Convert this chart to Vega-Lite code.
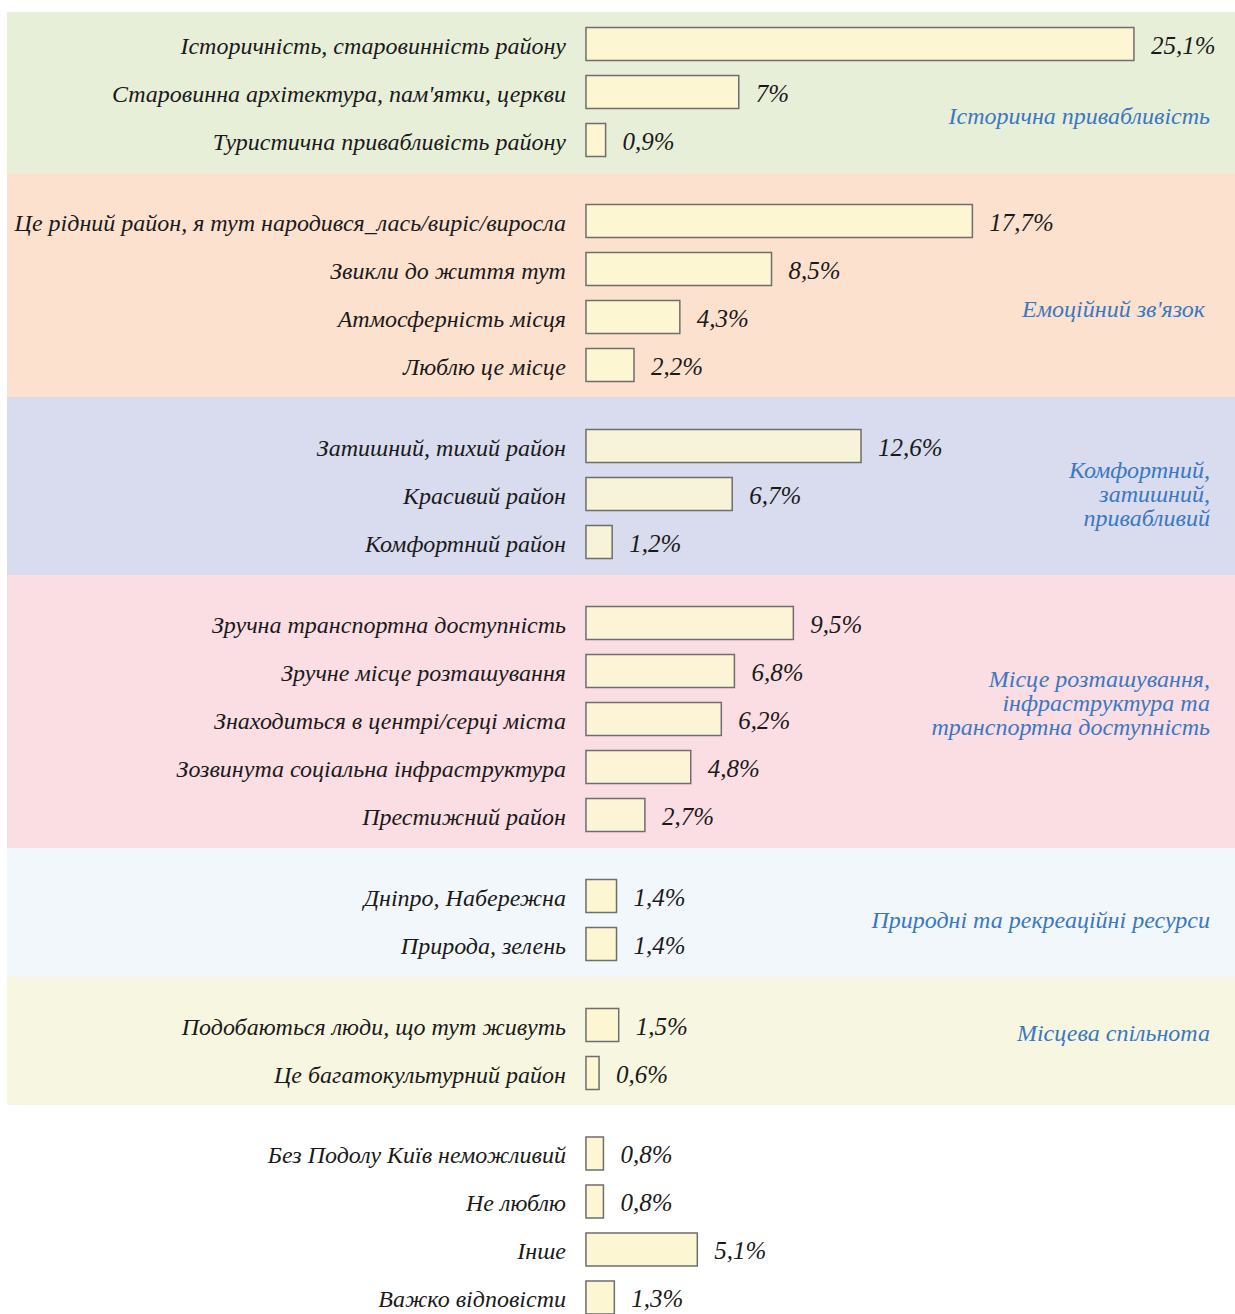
{
  "$schema": "https://vega.github.io/schema/vega-lite/v6.json",
  "padding": {"left": 7, "top": 12, "right": 0, "bottom": 0},
  "spacing": 0,
  "background": "white",
  "config": {"view": {"stroke": null}, "concat": {"spacing": 0}, "text": {"font": "'Liberation Serif', 'DejaVu Serif', serif", "fontStyle": "italic"}},
  "resolve": {"scale": {"y": "independent"}},
  "datasets": {
    "bars": [
      {"group": "g1", "label": "Історичність, старовинність району", "value": 25.1, "text": "25,1%"},
      {"group": "g1", "label": "Старовинна архітектура, пам'ятки, церкви", "value": 7, "text": "7%"},
      {"group": "g1", "label": "Туристична привабливість району", "value": 0.9, "text": "0,9%"},
      {"group": "g2", "label": "Це рідний район, я тут народився_лась/виріс/виросла", "value": 17.7, "text": "17,7%"},
      {"group": "g2", "label": "Звикли до життя тут", "value": 8.5, "text": "8,5%"},
      {"group": "g2", "label": "Атмосферність місця", "value": 4.3, "text": "4,3%"},
      {"group": "g2", "label": "Люблю це місце", "value": 2.2, "text": "2,2%"},
      {"group": "g3", "label": "Затишний, тихий район", "value": 12.6, "text": "12,6%"},
      {"group": "g3", "label": "Красивий район", "value": 6.7, "text": "6,7%"},
      {"group": "g3", "label": "Комфортний район", "value": 1.2, "text": "1,2%"},
      {"group": "g4", "label": "Зручна транспортна доступність", "value": 9.5, "text": "9,5%"},
      {"group": "g4", "label": "Зручне місце розташування", "value": 6.8, "text": "6,8%"},
      {"group": "g4", "label": "Знаходиться в центрі/серці міста", "value": 6.2, "text": "6,2%"},
      {"group": "g4", "label": "Зозвинута соціальна інфраструктура", "value": 4.8, "text": "4,8%"},
      {"group": "g4", "label": "Престижний район", "value": 2.7, "text": "2,7%"},
      {"group": "g5", "label": "Дніпро, Набережна", "value": 1.4, "text": "1,4%"},
      {"group": "g5", "label": "Природа, зелень", "value": 1.4, "text": "1,4%"},
      {"group": "g6", "label": "Подобаються люди, що тут живуть", "value": 1.5, "text": "1,5%"},
      {"group": "g6", "label": "Це багатокультурний район", "value": 0.6, "text": "0,6%"},
      {"group": "g7", "label": "Без Подолу Київ неможливий", "value": 0.8, "text": "0,8%"},
      {"group": "g7", "label": "Не люблю", "value": 0.8, "text": "0,8%"},
      {"group": "g7", "label": "Інше", "value": 5.1, "text": "5,1%"},
      {"group": "g7", "label": "Важко відповісти", "value": 1.3, "text": "1,3%"}
    ],
    "groups": [
      {"group": "g1", "name": ["Історична привабливість"]},
      {"group": "g2", "name": ["Емоційний зв'язок"]},
      {"group": "g3", "name": ["Комфортний,", "затишний,", "привабливий"]},
      {"group": "g4", "name": ["Місце розташування,", "інфраструктура та", "транспортна доступність"]},
      {"group": "g5", "name": ["Природні та рекреаційні ресурси"]},
      {"group": "g6", "name": ["Місцева спільнота"]}
    ]
  },
  "vconcat": [
    {
      "width": 1228, "height": 161,
      "view": {"fill": "#e8efd9", "stroke": null},
      "layer": [
        {
          "data": {"name": "bars"},
          "transform": [{"filter": "datum.group == 'g1'"}],
          "encoding": {"y": {"field": "label", "type": "nominal", "sort": null, "axis": null, "scale": {"paddingInner": 0.3125, "paddingOuter": 0.333, "align": 0.484}}},
          "layer": [
            {"mark": {"type": "bar", "fill": "#fdf6d3", "stroke": "#6e6e6e", "strokeWidth": 1.5}, "encoding": {"x": {"field": "value", "type": "quantitative", "scale": {"domain": [-26.52, 29.73], "nice": false, "zero": false}, "axis": null}}},
            {"mark": {"type": "text", "align": "right", "baseline": "middle", "dx": -20, "dy": 3, "fontSize": 24, "color": "#1a1a1a"}, "encoding": {"x": {"datum": 0, "type": "quantitative"}, "text": {"field": "label", "type": "nominal"}}},
            {"mark": {"type": "text", "align": "left", "baseline": "middle", "dx": 17, "dy": 2, "fontSize": 25, "color": "#1a1a1a"}, "encoding": {"x": {"field": "value", "type": "quantitative"}, "text": {"field": "text", "type": "nominal"}}}
          ]
        },
        {
          "data": {"name": "groups"},
          "transform": [{"filter": "datum.group == 'g1'"}],
          "mark": {"type": "text", "align": "right", "baseline": "middle", "dx": -25, "dy": 24.5, "lineHeight": 24, "fontSize": 24, "color": "#3a78c0"},
          "encoding": {"x": {"datum": 29.73, "type": "quantitative"}, "text": {"field": "name", "type": "nominal"}}
        }
      ]
    },
    {
      "width": 1228, "height": 224,
      "view": {"fill": "#fde1cf", "stroke": null},
      "layer": [
        {
          "data": {"name": "bars"},
          "transform": [{"filter": "datum.group == 'g2'"}],
          "encoding": {"y": {"field": "label", "type": "nominal", "sort": null, "axis": null, "scale": {"paddingInner": 0.3125, "paddingOuter": 0.4896, "align": 0.67}}},
          "layer": [
            {"mark": {"type": "bar", "fill": "#fdf6d3", "stroke": "#6e6e6e", "strokeWidth": 1.5}, "encoding": {"x": {"field": "value", "type": "quantitative", "scale": {"domain": [-26.52, 29.73], "nice": false, "zero": false}, "axis": null}}},
            {"mark": {"type": "text", "align": "right", "baseline": "middle", "dx": -20, "dy": 3, "fontSize": 24, "color": "#1a1a1a"}, "encoding": {"x": {"datum": 0, "type": "quantitative"}, "text": {"field": "label", "type": "nominal"}}},
            {"mark": {"type": "text", "align": "left", "baseline": "middle", "dx": 17, "dy": 2, "fontSize": 25, "color": "#1a1a1a"}, "encoding": {"x": {"field": "value", "type": "quantitative"}, "text": {"field": "text", "type": "nominal"}}}
          ]
        },
        {
          "data": {"name": "groups"},
          "transform": [{"filter": "datum.group == 'g2'"}],
          "mark": {"type": "text", "align": "right", "baseline": "middle", "dx": -30, "dy": 25, "lineHeight": 24, "fontSize": 24, "color": "#3a78c0"},
          "encoding": {"x": {"datum": 29.73, "type": "quantitative"}, "text": {"field": "name", "type": "nominal"}}
        }
      ]
    },
    {
      "width": 1228, "height": 178,
      "view": {"fill": "#d9dbef", "stroke": null},
      "layer": [
        {
          "data": {"name": "bars"},
          "transform": [{"filter": "datum.group == 'g3'"}],
          "encoding": {"y": {"field": "label", "type": "nominal", "sort": null, "axis": null, "scale": {"paddingInner": 0.3125, "paddingOuter": 0.5104, "align": 0.663}}},
          "layer": [
            {"mark": {"type": "bar", "fill": "#f7f3d8", "stroke": "#6e6e6e", "strokeWidth": 1.5}, "encoding": {"x": {"field": "value", "type": "quantitative", "scale": {"domain": [-26.52, 29.73], "nice": false, "zero": false}, "axis": null}}},
            {"mark": {"type": "text", "align": "right", "baseline": "middle", "dx": -20, "dy": 3, "fontSize": 24, "color": "#1a1a1a"}, "encoding": {"x": {"datum": 0, "type": "quantitative"}, "text": {"field": "label", "type": "nominal"}}},
            {"mark": {"type": "text", "align": "left", "baseline": "middle", "dx": 17, "dy": 2, "fontSize": 25, "color": "#1a1a1a"}, "encoding": {"x": {"field": "value", "type": "quantitative"}, "text": {"field": "text", "type": "nominal"}}}
          ]
        },
        {
          "data": {"name": "groups"},
          "transform": [{"filter": "datum.group == 'g3'"}],
          "mark": {"type": "text", "align": "right", "baseline": "middle", "dx": -25, "dy": -15, "lineHeight": 24, "fontSize": 24, "color": "#3a78c0"},
          "encoding": {"x": {"datum": 29.73, "type": "quantitative"}, "text": {"field": "name", "type": "nominal"}}
        }
      ]
    },
    {
      "width": 1228, "height": 273,
      "view": {"fill": "#fbdde4", "stroke": null},
      "layer": [
        {
          "data": {"name": "bars"},
          "transform": [{"filter": "datum.group == 'g4'"}],
          "encoding": {"y": {"field": "label", "type": "nominal", "sort": null, "axis": null, "scale": {"paddingInner": 0.3125, "paddingOuter": 0.5, "align": 0.656}}},
          "layer": [
            {"mark": {"type": "bar", "fill": "#fdf3d6", "stroke": "#6e6e6e", "strokeWidth": 1.5}, "encoding": {"x": {"field": "value", "type": "quantitative", "scale": {"domain": [-26.52, 29.73], "nice": false, "zero": false}, "axis": null}}},
            {"mark": {"type": "text", "align": "right", "baseline": "middle", "dx": -20, "dy": 3, "fontSize": 24, "color": "#1a1a1a"}, "encoding": {"x": {"datum": 0, "type": "quantitative"}, "text": {"field": "label", "type": "nominal"}}},
            {"mark": {"type": "text", "align": "left", "baseline": "middle", "dx": 17, "dy": 2, "fontSize": 25, "color": "#1a1a1a"}, "encoding": {"x": {"field": "value", "type": "quantitative"}, "text": {"field": "text", "type": "nominal"}}}
          ]
        },
        {
          "data": {"name": "groups"},
          "transform": [{"filter": "datum.group == 'g4'"}],
          "mark": {"type": "text", "align": "right", "baseline": "middle", "dx": -25, "dy": -31.5, "lineHeight": 24, "fontSize": 24, "color": "#3a78c0"},
          "encoding": {"x": {"datum": 29.73, "type": "quantitative"}, "text": {"field": "name", "type": "nominal"}}
        }
      ]
    },
    {
      "width": 1228, "height": 129,
      "view": {"fill": "#f2f7fb", "stroke": null},
      "layer": [
        {
          "data": {"name": "bars"},
          "transform": [{"filter": "datum.group == 'g5'"}],
          "encoding": {"y": {"field": "label", "type": "nominal", "sort": null, "axis": null, "scale": {"paddingInner": 0.3125, "paddingOuter": 0.5, "align": 0.656}}},
          "layer": [
            {"mark": {"type": "bar", "fill": "#fdf6d3", "stroke": "#6e6e6e", "strokeWidth": 1.5}, "encoding": {"x": {"field": "value", "type": "quantitative", "scale": {"domain": [-26.52, 29.73], "nice": false, "zero": false}, "axis": null}}},
            {"mark": {"type": "text", "align": "right", "baseline": "middle", "dx": -20, "dy": 3, "fontSize": 24, "color": "#1a1a1a"}, "encoding": {"x": {"datum": 0, "type": "quantitative"}, "text": {"field": "label", "type": "nominal"}}},
            {"mark": {"type": "text", "align": "left", "baseline": "middle", "dx": 17, "dy": 2, "fontSize": 25, "color": "#1a1a1a"}, "encoding": {"x": {"field": "value", "type": "quantitative"}, "text": {"field": "text", "type": "nominal"}}}
          ]
        },
        {
          "data": {"name": "groups"},
          "transform": [{"filter": "datum.group == 'g5'"}],
          "mark": {"type": "text", "align": "right", "baseline": "middle", "dx": -25, "dy": 8.5, "lineHeight": 24, "fontSize": 24, "color": "#3a78c0"},
          "encoding": {"x": {"datum": 29.73, "type": "quantitative"}, "text": {"field": "name", "type": "nominal"}}
        }
      ]
    },
    {
      "width": 1228, "height": 128,
      "view": {"fill": "#f7f6e0", "stroke": null},
      "layer": [
        {
          "data": {"name": "bars"},
          "transform": [{"filter": "datum.group == 'g6'"}],
          "encoding": {"y": {"field": "label", "type": "nominal", "sort": null, "axis": null, "scale": {"paddingInner": 0.3125, "paddingOuter": 0.4896, "align": 0.67}}},
          "layer": [
            {"mark": {"type": "bar", "fill": "#fdf6d3", "stroke": "#6e6e6e", "strokeWidth": 1.5}, "encoding": {"x": {"field": "value", "type": "quantitative", "scale": {"domain": [-26.52, 29.73], "nice": false, "zero": false}, "axis": null}}},
            {"mark": {"type": "text", "align": "right", "baseline": "middle", "dx": -20, "dy": 3, "fontSize": 24, "color": "#1a1a1a"}, "encoding": {"x": {"datum": 0, "type": "quantitative"}, "text": {"field": "label", "type": "nominal"}}},
            {"mark": {"type": "text", "align": "left", "baseline": "middle", "dx": 17, "dy": 2, "fontSize": 25, "color": "#1a1a1a"}, "encoding": {"x": {"field": "value", "type": "quantitative"}, "text": {"field": "text", "type": "nominal"}}}
          ]
        },
        {
          "data": {"name": "groups"},
          "transform": [{"filter": "datum.group == 'g6'"}],
          "mark": {"type": "text", "align": "right", "baseline": "middle", "dx": -25, "dy": -7, "lineHeight": 24, "fontSize": 24, "color": "#3a78c0"},
          "encoding": {"x": {"datum": 29.73, "type": "quantitative"}, "text": {"field": "name", "type": "nominal"}}
        }
      ]
    },
    {
      "width": 1228, "height": 209,
      "view": {"fill": "#ffffff", "stroke": null},
      "data": {"name": "bars"},
      "transform": [{"filter": "datum.group == 'g7'"}],
      "encoding": {"y": {"field": "label", "type": "nominal", "sort": null, "axis": null, "scale": {"paddingInner": 0.3125, "paddingOuter": 0.333, "align": 1}}},
      "layer": [
        {"mark": {"type": "bar", "fill": "#fdf6d3", "stroke": "#6e6e6e", "strokeWidth": 1.5}, "encoding": {"x": {"field": "value", "type": "quantitative", "scale": {"domain": [-26.52, 29.73], "nice": false, "zero": false}, "axis": null}}},
        {"mark": {"type": "text", "align": "right", "baseline": "middle", "dx": -20, "dy": 3, "fontSize": 24, "color": "#1a1a1a"}, "encoding": {"x": {"datum": 0, "type": "quantitative"}, "text": {"field": "label", "type": "nominal"}}},
        {"mark": {"type": "text", "align": "left", "baseline": "middle", "dx": 17, "dy": 2, "fontSize": 25, "color": "#1a1a1a"}, "encoding": {"x": {"field": "value", "type": "quantitative"}, "text": {"field": "text", "type": "nominal"}}}
      ]
    }
  ]
}
